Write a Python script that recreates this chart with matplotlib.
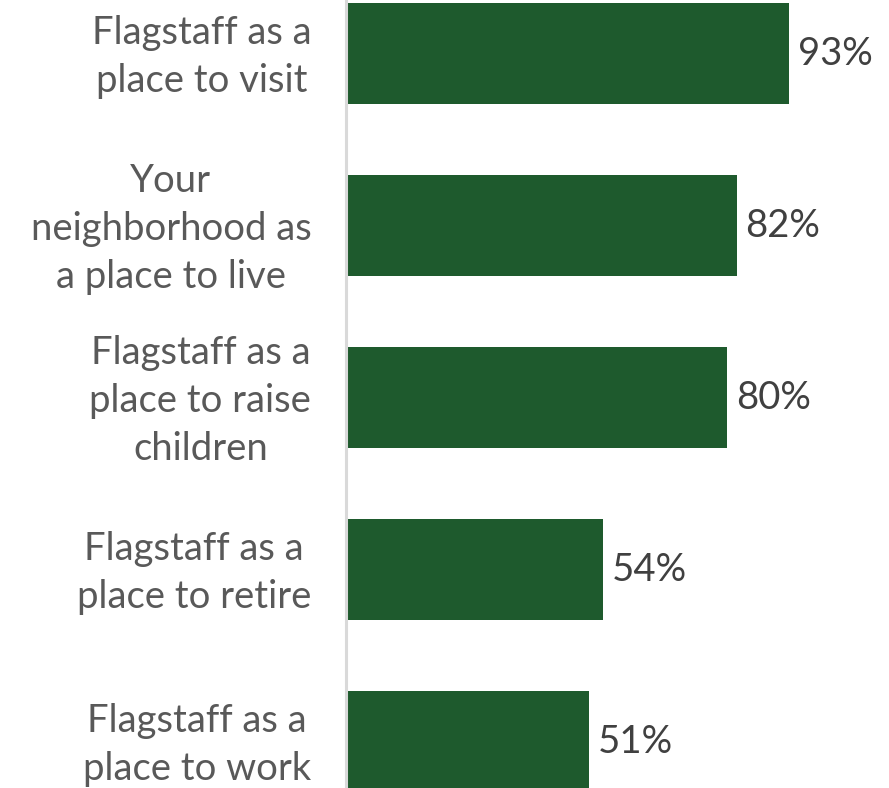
import matplotlib
matplotlib.use("Agg")
import matplotlib.pyplot as plt
import matplotlib.transforms as mtransforms

categories = [
    "Flagstaff as a\nplace to visit",
    "Your\nneighborhood as\na place to live",
    "Flagstaff as a\nplace to raise\nchildren",
    "Flagstaff as a\nplace to retire",
    "Flagstaff as a\nplace to work",
]
values = [93, 82, 80, 54, 51]
value_labels = ["93%", "82%", "80%", "54%", "51%"]

plt.rcParams['font.family'] = ['Lato', 'DejaVu Sans']

W, H = 889, 788
fig = plt.figure(figsize=(W / 100, H / 100), dpi=100)
ax = fig.add_axes([346 / W, 0, (W - 346) / W, 1])

ypos = list(range(len(categories)))
ax.barh(ypos, values, height=0.585, color="#1E5A2D", edgecolor="none")

# x scale: 443 px for 93%
px_per_pct = 443 / 93
ax.set_xlim(0, (W - 346) / px_per_pct)
ax.set_ylim((788 - 53.5) / 172, -53.5 / 172)

for y, v, lab in zip(ypos, values, value_labels):
    ax.text(v + 9 / px_per_pct, y, lab, va="center", ha="left",
            fontsize=27.5, color="#404040")

ax.set_yticks(ypos)
ax.set_yticklabels(categories, fontsize=27.5, color="#595959",
                   multialignment="center", linespacing=1.42)
ax.tick_params(axis="y", length=0, pad=25)
offset = mtransforms.ScaledTranslation(0, 6 / 100, fig.dpi_scale_trans)
for lbl in ax.get_yticklabels():
    lbl.set_transform(lbl.get_transform() + offset)
ax.set_xticks([])
for s in ["top", "right", "bottom"]:
    ax.spines[s].set_visible(False)
ax.spines["left"].set_color("#D9D9D9")
ax.spines["left"].set_linewidth(2.2)

fig.savefig("out.png", dpi=100)
